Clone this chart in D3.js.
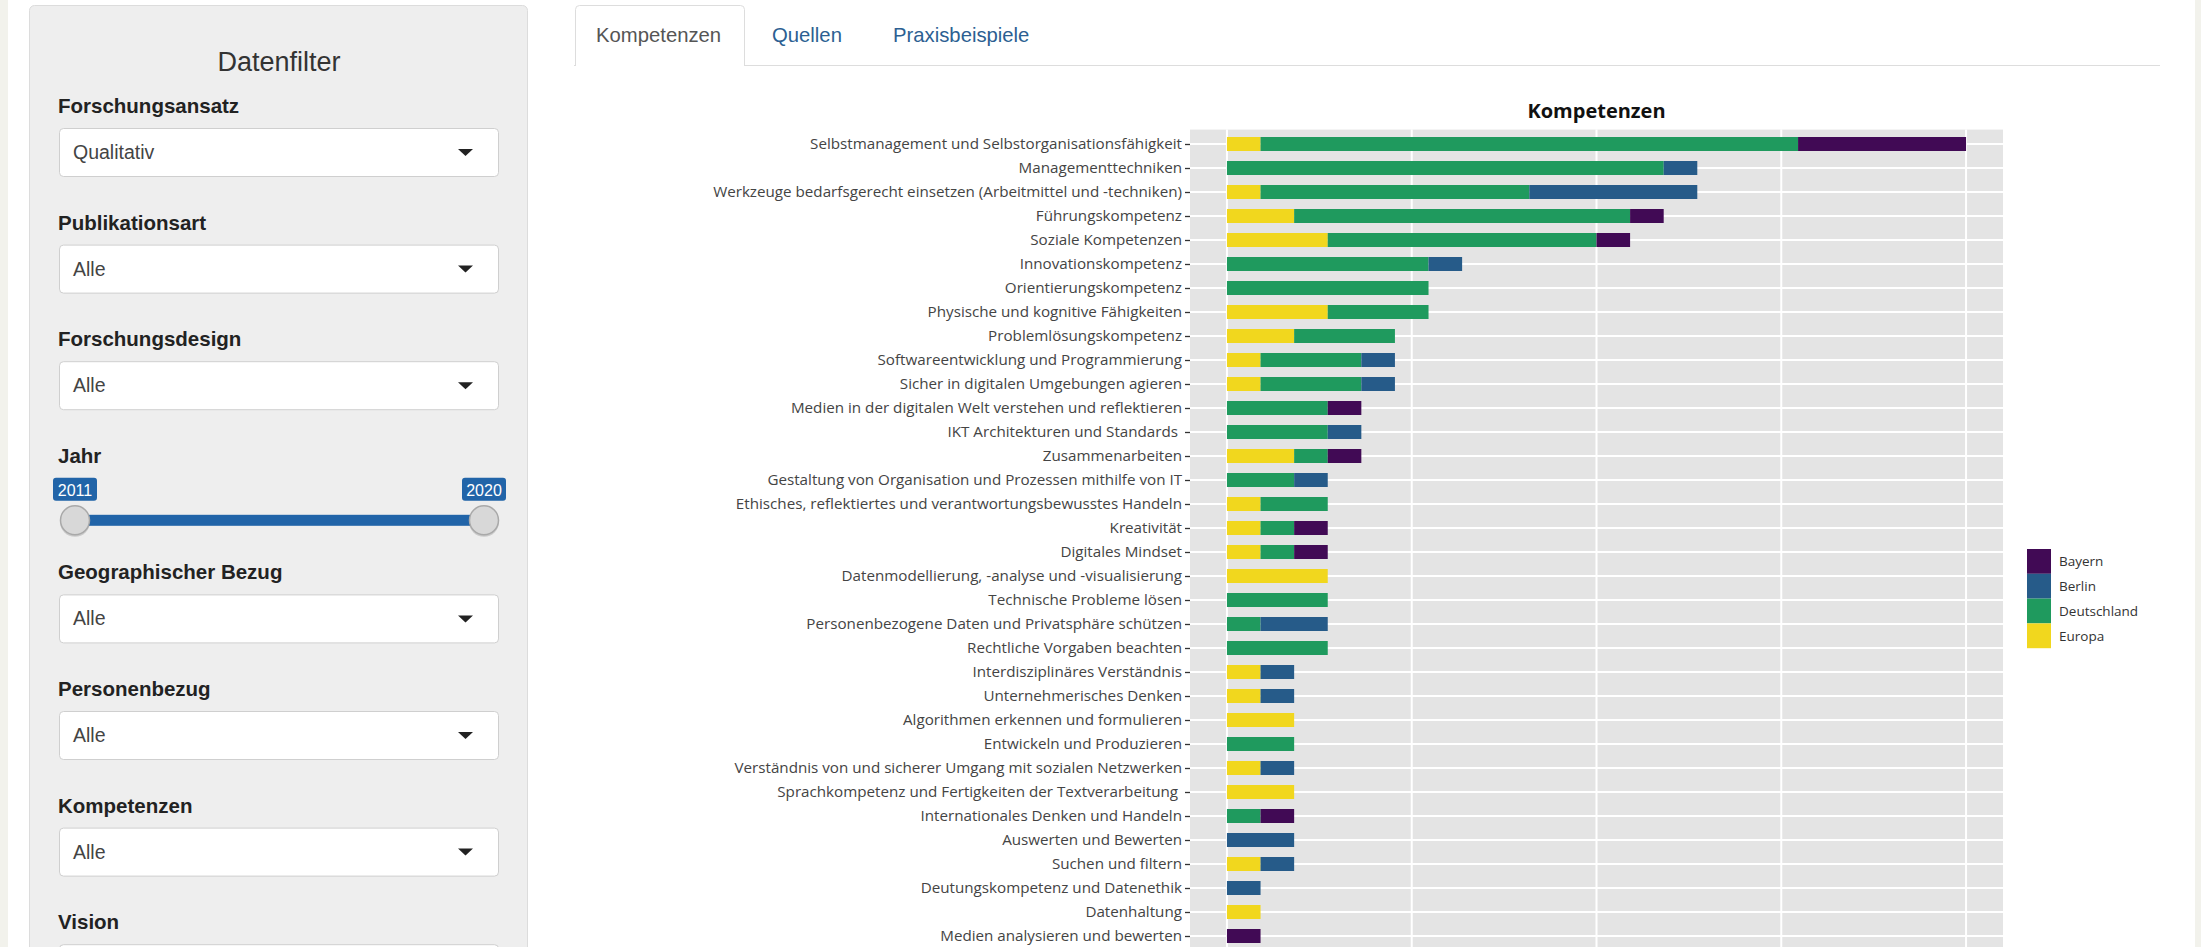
<!DOCTYPE html>
<html>
<head>
<meta charset="utf-8">
<script src="https://cdn.jsdelivr.net/npm/d3@7"></script>
<style>
html, body { margin: 0; padding: 0; background: #fff; overflow: hidden; }
svg { display: block; }
.ui { font-family: "Liberation Sans", Arial, sans-serif; }
.plot { font-family: "Open Sans", sans-serif; }
</style>
</head>
<body>
<svg id="page" width="2201" height="947"></svg>
<script>
// chart data (counts per competence and region)
var categories = [
    "Selbstmanagement und Selbstorganisationsfähigkeit",
    "Managementtechniken",
    "Werkzeuge bedarfsgerecht einsetzen (Arbeitmittel und -techniken)",
    "Führungskompetenz",
    "Soziale Kompetenzen",
    "Innovationskompetenz",
    "Orientierungskompetenz",
    "Physische und kognitive Fähigkeiten",
    "Problemlösungskompetenz",
    "Softwareentwicklung und Programmierung",
    "Sicher in digitalen Umgebungen agieren",
    "Medien in der digitalen Welt verstehen und reflektieren",
    "IKT Architekturen und Standards ",
    "Zusammenarbeiten",
    "Gestaltung von Organisation und Prozessen mithilfe von IT",
    "Ethisches, reflektiertes und verantwortungsbewusstes Handeln",
    "Kreativität",
    "Digitales Mindset",
    "Datenmodellierung, -analyse und -visualisierung",
    "Technische Probleme lösen",
    "Personenbezogene Daten und Privatsphäre schützen",
    "Rechtliche Vorgaben beachten",
    "Interdisziplinäres Verständnis",
    "Unternehmerisches Denken",
    "Algorithmen erkennen und formulieren",
    "Entwickeln und Produzieren",
    "Verständnis von und sicherer Umgang mit sozialen Netzwerken",
    "Sprachkompetenz und Fertigkeiten der Textverarbeitung ",
    "Internationales Denken und Handeln",
    "Auswerten und Bewerten",
    "Suchen und filtern",
    "Deutungskompetenz und Datenethik",
    "Datenhaltung",
    "Medien analysieren und bewerten"
];
var europa      = [1, 0, 1, 2, 3, 0, 0, 3, 2, 1, 1, 0, 0, 2, 0, 1, 1, 1, 3, 0, 0, 0, 1, 1, 2, 0, 1, 2, 0, 0, 1, 0, 1, 0];
var deutschland = [16, 13, 8, 10, 8, 6, 6, 3, 3, 3, 3, 3, 3, 1, 2, 2, 1, 1, 0, 3, 1, 3, 0, 0, 0, 2, 0, 0, 1, 0, 0, 0, 0, 0];
var berlin      = [0, 1, 5, 0, 0, 1, 0, 0, 0, 1, 1, 0, 1, 0, 1, 0, 0, 0, 0, 0, 2, 0, 1, 1, 0, 0, 1, 0, 0, 2, 1, 1, 0, 0];
var bayern      = [5, 0, 0, 1, 1, 0, 0, 0, 0, 0, 0, 1, 0, 1, 0, 0, 1, 1, 0, 0, 0, 0, 0, 0, 0, 0, 0, 0, 1, 0, 0, 0, 0, 1];

var legendNames = ["Bayern", "Berlin", "Deutschland", "Europa"];
var legendColors = ["#410a55", "#265b89", "#1f9a5e", "#f1d71e"];
var xBreaks = [0, 5.5, 11, 16.5, 22];
var chartTitle = "Kompetenzen";

// sidebar / tab contents
var filterLabels = ["Forschungsansatz", "Publikationsart", "Forschungsdesign", "Jahr",
    "Geographischer Bezug", "Personenbezug", "Kompetenzen", "Vision"];
var filterValues = ["Qualitativ", "Alle", "Alle", null, "Alle", "Alle", "Alle", ""];
var yearRange = [2011, 2020];
var tabNames = ["Kompetenzen", "Quellen", "Praxisbeispiele"];

var svg = d3.select("#page");

// page frame
svg.append("rect").attr("x", 0).attr("y", 0).attr("width", 8).attr("height", 947).attr("fill", "#f2f2ec");
svg.append("rect").attr("x", 2195).attr("y", 0).attr("width", 6).attr("height", 947).attr("fill", "#f2f2ec");

// ---- sidebar ----
var side = svg.append("g").attr("class", "ui");
side.append("rect")
    .attr("x", 29.5).attr("y", 5.5).attr("width", 498).attr("height", 1000)
    .attr("rx", 5).attr("fill", "#eeeeee").attr("stroke", "#dcdcdc");
side.append("text")
    .attr("x", 279).attr("y", 71).attr("text-anchor", "middle")
    .style("font-size", "27px").attr("fill", "#333").text("Datenfilter");

var years = d3.scaleLinear().domain(yearRange).range([75, 484]);

filterLabels.forEach(function (lab, i) {
    var base = 113 + i * 116.6;
    side.append("text")
        .attr("x", 58).attr("y", base)
        .style("font-size", "20.5px").style("font-weight", "bold").attr("fill", "#222")
        .text(lab);
    if (filterValues[i] !== null) {
        var top = base + 15;
        side.append("rect")
            .attr("x", 59.5).attr("y", top + 0.5).attr("width", 439).attr("height", 48)
            .attr("rx", 4).attr("fill", "#fff").attr("stroke", "#cfcfcf");
        side.append("text")
            .attr("x", 73).attr("y", top + 31)
            .style("font-size", "19.5px").attr("fill", "#444")
            .text(filterValues[i]);
        side.append("path")
            .attr("d", "M" + 458 + "," + (top + 21) + "h15l-7.5,7z")
            .attr("fill", "#222");
    } else {
        // range slider
        var cy = base + 57.5;
        side.append("rect")
            .attr("x", years(yearRange[0])).attr("y", cy - 5.5)
            .attr("width", years(yearRange[1]) - years(yearRange[0])).attr("height", 11)
            .attr("fill", "#2164a8");
        yearRange.forEach(function (yr) {
            var gx = years(yr);
            side.append("rect")
                .attr("x", gx - 22).attr("y", base + 15).attr("width", 44).attr("height", 23)
                .attr("rx", 3).attr("fill", "#2164a8");
            side.append("text")
                .attr("x", gx).attr("y", base + 33).attr("text-anchor", "middle")
                .style("font-size", "16px").attr("fill", "#fff").text(yr);
            side.append("circle")
                .attr("cx", gx).attr("cy", cy + 1.5).attr("r", 15)
                .attr("fill", "rgba(0,0,0,0.15)");
            side.append("circle")
                .attr("cx", gx).attr("cy", cy).attr("r", 14.5)
                .attr("fill", "#d8d8d8").attr("stroke", "#a9a9a9").attr("stroke-width", 1.5);
        });
    }
});

// ---- tabs ----
var tabs = svg.append("g").attr("class", "ui");
tabs.append("line")
    .attr("x1", 574).attr("x2", 2160).attr("y1", 65.5).attr("y2", 65.5)
    .attr("stroke", "#dddddd");
tabs.append("path")
    .attr("d", "M575.5,66V9.5q0,-4 4,-4H740.5q4,0 4,4V66")
    .attr("fill", "#fff").attr("stroke", "#dddddd");
var tabX = [596, 772, 893];
tabNames.forEach(function (t, i) {
    tabs.append("text")
        .attr("x", tabX[i]).attr("y", 42)
        .style("font-size", "20.3px")
        .attr("fill", i === 0 ? "#555" : "#2c5f92")
        .text(t);
});

// ---- chart ----
var table = categories.map(function (c, i) {
    return { cat: c, Europa: europa[i], Deutschland: deutschland[i], Berlin: berlin[i], Bayern: bayern[i] };
});
var stackKeys = ["Europa", "Deutschland", "Berlin", "Bayern"];
var series = d3.stack().keys(stackKeys)(table);
var maxTotal = d3.max(table, function (d) { return d.Europa + d.Deutschland + d.Berlin + d.Bayern; });

var step = 24;
var x = d3.scaleLinear().domain([-0.05 * maxTotal, 1.05 * maxTotal]).range([1190, 2003]);
var y = d3.scalePoint().domain(categories).range([144, 144 + (categories.length - 1) * step]);
var color = d3.scaleOrdinal().domain(legendNames).range(legendColors);

var plot = svg.append("g").attr("class", "plot");
var panelTop = y(categories[0]) - 0.6 * step;
var panelBottom = y(categories[categories.length - 1]) + 0.6 * step;

plot.append("rect")
    .attr("x", x.range()[0]).attr("y", panelTop)
    .attr("width", x.range()[1] - x.range()[0]).attr("height", panelBottom - panelTop)
    .attr("fill", "#e4e4e4");

plot.append("g").selectAll("line").data(xBreaks).enter().append("line")
    .attr("x1", function (d) { return x(d); }).attr("x2", function (d) { return x(d); })
    .attr("y1", panelTop).attr("y2", panelBottom)
    .attr("stroke", "#fff").attr("stroke-width", 2);

plot.append("g").selectAll("line").data(categories).enter().append("line")
    .attr("x1", x.range()[0]).attr("x2", x.range()[1])
    .attr("y1", function (d) { return y(d); }).attr("y2", function (d) { return y(d); })
    .attr("stroke", "#fff").attr("stroke-width", 2);

plot.append("g").selectAll("g").data(series).enter().append("g")
    .attr("fill", function (s) { return color(s.key); })
    .selectAll("rect").data(function (s) { return s; }).enter().append("rect")
    .attr("x", function (d) { return x(d[0]); })
    .attr("width", function (d) { return x(d[1]) - x(d[0]); })
    .attr("y", function (d) { return y(d.data.cat) - 7; })
    .attr("height", 14);

var yAxis = plot.append("g")
    .attr("transform", "translate(" + x.range()[0] + ",0)")
    .call(d3.axisLeft(y).tickSize(5).tickPadding(3));
yAxis.select(".domain").remove();
yAxis.selectAll(".tick line").attr("stroke", "#333").attr("stroke-width", 1.3);
yAxis.selectAll(".tick text")
    .attr("fill", "#444")
    .style("font-family", "'Open Sans', sans-serif")
    .style("font-size", "15.2px")
    .style("white-space", "pre");

plot.append("text")
    .attr("x", (x.range()[0] + x.range()[1]) / 2).attr("y", 118)
    .attr("text-anchor", "middle")
    .style("font-size", "20px").style("font-weight", "bold").attr("fill", "#111")
    .text(chartTitle);

// legend
var legend = plot.append("g").attr("transform", "translate(2027,549)");
var keyH = 24.8;
legend.selectAll("rect").data(legendNames).enter().append("rect")
    .attr("x", 0).attr("y", function (d, i) { return i * keyH; })
    .attr("width", 24).attr("height", keyH)
    .attr("fill", function (d) { return color(d); });
legend.selectAll("text").data(legendNames).enter().append("text")
    .attr("x", 32).attr("y", function (d, i) { return i * keyH + keyH / 2 + 5; })
    .style("font-size", "13.5px").attr("fill", "#333")
    .text(function (d) { return d; });
</script>
</body>
</html>
